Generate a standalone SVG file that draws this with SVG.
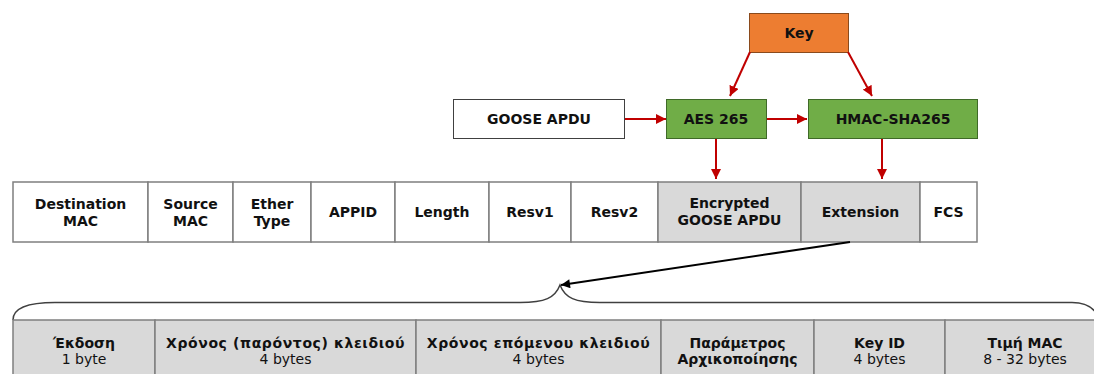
<svg xmlns="http://www.w3.org/2000/svg" width="1094" height="374" viewBox="0 0 1094 374">
<style>
  text { font-family: "DejaVu Sans", Verdana, sans-serif; font-size: 14px; fill: #111; text-anchor: middle; }
  .b { font-weight: bold; }
  .r { font-weight: normal; }
  .wide { letter-spacing: 0.6px; }
  .cell { stroke: #7f7f7f; stroke-width: 1.5; }
  .white { fill: #ffffff; }
  .gray { fill: #d9d9d9; }
  .green { fill: #70ad47; stroke: #3f6a28; stroke-width: 1; }
  .orange { fill: #ed7d31; stroke: #8a4a1c; stroke-width: 1; }
  .plain { fill: #ffffff; stroke: #404040; stroke-width: 1; }
  .red { stroke: #c00000; stroke-width: 2; fill: none; marker-end: url(#ar); }
  .blk { stroke: #000; stroke-width: 2; fill: none; marker-end: url(#ab); }
  .brace { stroke: #404040; stroke-width: 1.5; fill: none; }
</style>
<defs>
  <marker id="ar" viewBox="0 0 10 10" refX="10" refY="5" markerWidth="10" markerHeight="10" markerUnits="userSpaceOnUse" orient="auto">
    <path d="M0,0 L10,5 L0,10 z" fill="#c00000"/>
  </marker>
  <marker id="ab" viewBox="0 0 10 10" refX="10" refY="5" markerWidth="10" markerHeight="9" markerUnits="userSpaceOnUse" orient="auto">
    <path d="M0,0 L10,5 L0,10 z" fill="#000"/>
  </marker>
</defs>

<g id="key">
  <rect class="orange" x="749.5" y="13.5" width="99" height="39"/>
  <text class="b" x="799" y="38">Key</text>
</g>
<g id="goose-apdu">
  <rect class="plain" x="453.5" y="99.5" width="171" height="39"/>
  <text class="b" x="539" y="124">GOOSE APDU</text>
</g>
<g id="aes">
  <rect class="green" x="666.5" y="99.5" width="100" height="39"/>
  <text class="b" x="716" y="124">AES 265</text>
</g>
<g id="hmac">
  <rect class="green" x="808.5" y="99.5" width="169" height="39"/>
  <text class="b" x="893" y="124">HMAC-SHA265</text>
</g>

<g id="frame">
  <rect class="cell white" x="13" y="182" width="135" height="60"/>
  <text class="b" x="80.5" y="209">Destination</text>
  <text class="b" x="80.5" y="226">MAC</text>
  <rect class="cell white" x="148" y="182" width="85" height="60"/>
  <text class="b" x="190.5" y="209">Source</text>
  <text class="b" x="190.5" y="226">MAC</text>
  <rect class="cell white" x="233" y="182" width="78" height="60"/>
  <text class="b" x="272" y="209">Ether</text>
  <text class="b" x="272" y="226">Type</text>
  <rect class="cell white" x="311" y="182" width="84" height="60"/>
  <text class="b" x="353" y="217">APPID</text>
  <rect class="cell white" x="395" y="182" width="94" height="60"/>
  <text class="b" x="442" y="217">Length</text>
  <rect class="cell white" x="489" y="182" width="82" height="60"/>
  <text class="b" x="530" y="217">Resv1</text>
  <rect class="cell white" x="571" y="182" width="87" height="60"/>
  <text class="b" x="614.5" y="217">Resv2</text>
  <rect class="cell gray" x="658" y="182" width="143" height="60"/>
  <text class="b" x="729.5" y="208">Encrypted</text>
  <text class="b" x="729.5" y="225">GOOSE APDU</text>
  <rect class="cell gray" x="801" y="182" width="119" height="60"/>
  <text class="b" x="860.5" y="217">Extension</text>
  <rect class="cell white" x="920" y="182" width="57" height="60"/>
  <text class="b" x="948.5" y="217">FCS</text>
</g>

<g id="extension-detail">
  <path class="brace" d="M13,320 C13,309 25,302.5 55,302.5 L520,302.5 C545,302.5 555,298 560,285 C565,298 575,302.5 600,302.5 L1072,302.5 C1085,302.5 1092,307 1096,313"/>
  <rect class="cell gray" x="13" y="320" width="142" height="70"/>
  <text class="b" x="84" y="348">Έκδοση</text>
  <text class="r" x="84" y="364">1 byte</text>
  <rect class="cell gray" x="155" y="320" width="261" height="70"/>
  <text class="b wide" x="285.5" y="348">Χρόνος (παρόντος) κλειδιού</text>
  <text class="r" x="285.5" y="364">4 bytes</text>
  <rect class="cell gray" x="416" y="320" width="245" height="70"/>
  <text class="b wide" x="538.5" y="348">Χρόνος επόμενου κλειδιού</text>
  <text class="r" x="538.5" y="364">4 bytes</text>
  <rect class="cell gray" x="661" y="320" width="153" height="70"/>
  <text class="b" x="737.5" y="348">Παράμετρος</text>
  <text class="b" x="737.5" y="364">Αρχικοποίησης</text>
  <rect class="cell gray" x="814" y="320" width="131" height="70"/>
  <text class="b" x="879.5" y="348">Key ID</text>
  <text class="r" x="879.5" y="364">4 bytes</text>
  <rect class="cell gray" x="945" y="320" width="165" height="70"/>
  <text class="b" x="1025" y="348">Τιμή MAC</text>
  <text class="r" x="1025" y="364">8 - 32 bytes</text>
</g>

<g id="connectors">
  <line class="red" x1="750" y1="52" x2="730" y2="96"/>
  <line class="red" x1="848" y1="52" x2="872" y2="96"/>
  <line class="red" x1="625" y1="119" x2="666" y2="119"/>
  <line class="red" x1="767" y1="119" x2="807" y2="119"/>
  <line class="red" x1="716" y1="139" x2="716" y2="179"/>
  <line class="red" x1="882" y1="139" x2="882" y2="179"/>
  <line class="blk" x1="850" y1="242" x2="561" y2="285"/>
</g>
</svg>
